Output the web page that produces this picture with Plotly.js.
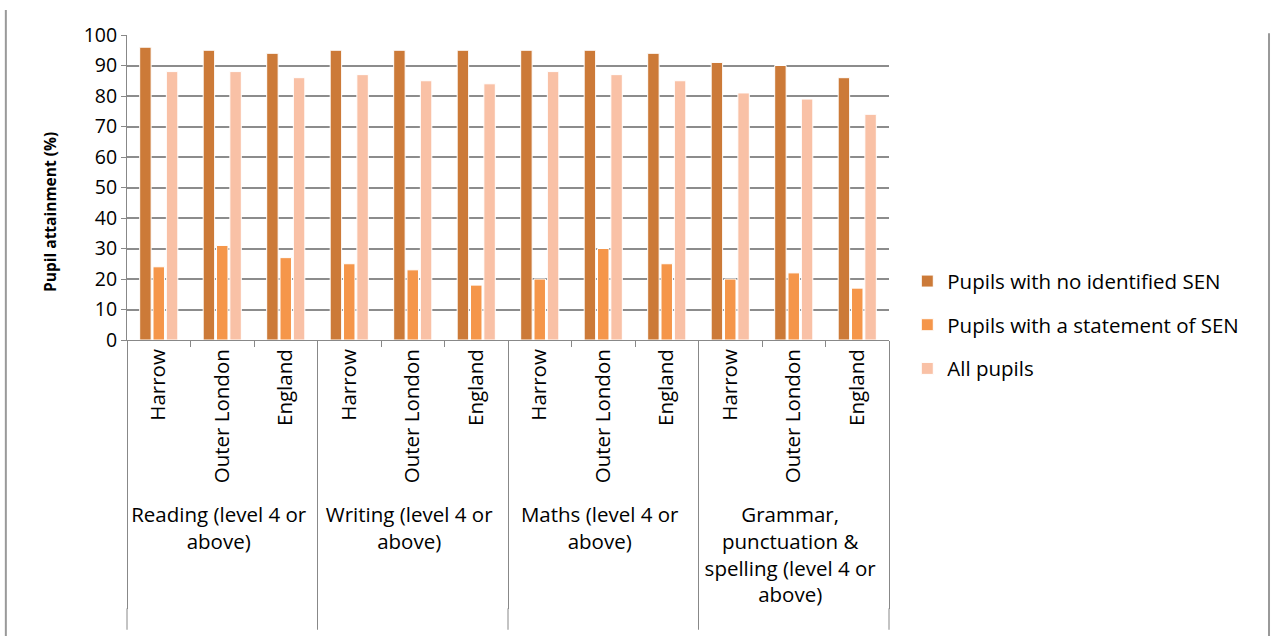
<!DOCTYPE html>
<html><head><meta charset="utf-8">
<script src="https://cdn.plot.ly/plotly-3.0.1.min.js"></script>
<style>html,body{margin:0;padding:0;background:#fff}#c{width:1272px;height:636px}</style>
</head><body><div id="c"></div>
<script>
const subjects = ["Reading (level 4 or<br>above)", "Writing (level 4 or<br>above)", "Maths (level 4 or<br>above)", "Grammar,<br>punctuation &<br>spelling (level 4 or<br>above)"];
const areas = ["Harrow", "Outer London", "England"];
const seriesNames = ["Pupils with no identified SEN", "Pupils with a statement of SEN", "All pupils"];
const noSEN =     [96, 95, 94, 95, 95, 95, 95, 95, 94, 91, 90, 86];
const statement = [24, 31, 27, 25, 23, 18, 20, 30, 25, 20, 22, 17];
const allPupils = [88, 88, 86, 87, 85, 84, 88, 87, 85, 81, 79, 74];
const colors = ["#CC7A38", "#F5964A", "#F9C1A6"];
const yTitle = "Pupil attainment (%)";

const outer = [], inner = [];
subjects.forEach(s => areas.forEach(a => { outer.push(s); inner.push(a); }));
const xs = [outer, inner];

const traces = [noSEN, statement, allPupils].map((v, i) => ({
  type: "bar", name: seriesNames[i], x: xs, y: v, legendgroup: "g" + i,
  marker: {color: colors[i], line: {color: "#ffffff", width: 1}}
}));

const F = "Open Sans, sans-serif";
const groupEdges = [0, 0.25, 0.5, 0.75, 1];
const shapes = [
  {type: "line", xref: "paper", yref: "paper", x0: -0.159, x1: -0.159, y0: 1.082, y1: -0.98, line: {color: "#999", width: 2}},
  {type: "line", xref: "paper", yref: "paper", x0: 1.4987, x1: 1.4987, y0: 1.006, y1: -0.98, line: {color: "#999", width: 2}}
].concat(groupEdges.map(e => ({type: "line", xref: "paper", yref: "paper", x0: e, x1: e, y0: -0.88, y1: -0.95, line: {color: "#888", width: 1}})));

const layout = {
  width: 1272, height: 636,
  margin: {l: 127, r: 383, t: 35, b: 296},
  paper_bgcolor: "#fff", plot_bgcolor: "#fff",
  font: {family: F, color: "#000"},
  barmode: "group", bargap: 0.37, bargroupgap: 0.14,
  xaxis: {
    type: "multicategory", tickangle: -90,
    tickfont: {size: 20.5, family: F, color: "#000"},
    showline: true, linecolor: "#888", linewidth: 1,
    showdividers: true, dividercolor: "#888", dividerwidth: 1,
    ticks: "outside", ticklen: 6, tickcolor: "#888",
    automargin: false
  },
  yaxis: {
    range: [0, 100], dtick: 10, showgrid: true, gridcolor: "#8c8c8c", gridwidth: 1.5,
    showline: true, linecolor: "#888", linewidth: 1,
    ticks: "outside", ticklen: 5, tickcolor: "#888",
    tickfont: {size: 19.5, family: F, color: "#000"},
    automargin: false
  },
  annotations: [{
    text: "<b>" + yTitle + "</b>", textangle: -90, showarrow: false,
    xref: "paper", yref: "paper", x: -0.101, y: 0.42, xanchor: "center", yanchor: "middle",
    font: {size: 15.5, family: F, color: "#000"}
  }],
  legend: {x: 1.024, y: 0.05, yanchor: "middle", xanchor: "left",
    font: {size: 20.5, family: F, color: "#000"}, tracegroupgap: 14, itemwidth: 30},
  showlegend: true,
  shapes: shapes
};
Plotly.newPlot("c", traces, layout, {displayModeBar: false});
</script></body></html>
